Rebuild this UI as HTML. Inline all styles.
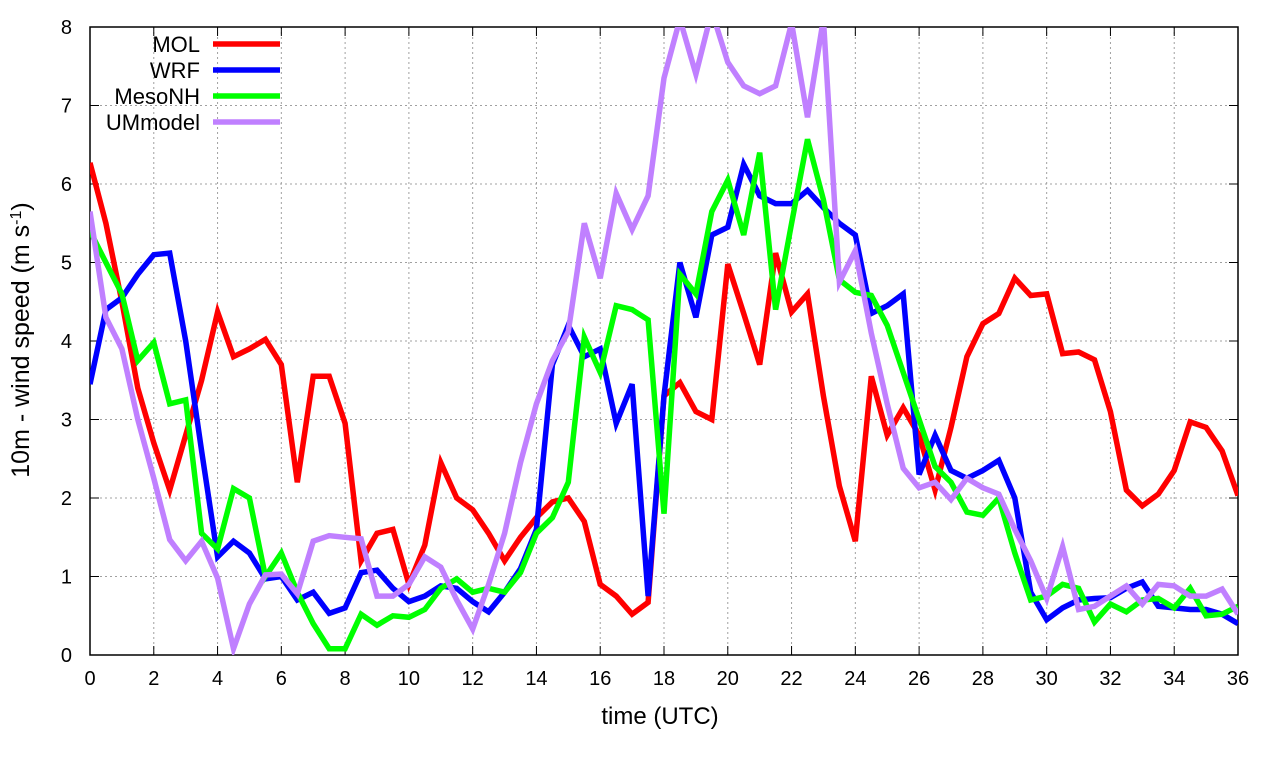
<!DOCTYPE html>
<html><head><meta charset="utf-8"><style>
body{margin:0;background:#fff;}
svg{display:block;font-family:"Liberation Sans",sans-serif;}
</style></head><body>
<svg id="chart" width="1280" height="760">
<defs><clipPath id="clip"><rect x="90" y="27" width="1148" height="628"/></clipPath></defs>
<g id="grid"></g>
<g id="axes"></g>
<g id="series" clip-path="url(#clip)"></g>
<g id="legend"></g>
<text x="660" y="724" font-size="24" text-anchor="middle">time (UTC)</text>
<text transform="translate(29,340) rotate(-90)" font-size="25" text-anchor="middle">10m - wind speed  (m s<tspan baseline-shift="super" font-size="16">-1</tspan>)</text>
</svg>
<script>
const xTicks=[0,2,4,6,8,10,12,14,16,18,20,22,24,26,28,30,32,34,36];
const yTicks=[0,1,2,3,4,5,6,7,8];
const seriesNames=["MOL","WRF","MesoNH","UMmodel"];
const seriesColors=["#ff0000","#0000ff","#00ff00","#c080ff"];
const mol=[6.27,5.5,4.5,3.4,2.7,2.1,2.8,3.5,4.37,3.8,3.9,4.02,3.7,2.2,3.55,3.55,2.95,1.2,1.55,1.6,0.9,1.4,2.45,2.0,1.85,1.55,1.2,1.5,1.75,1.95,2.0,1.7,0.9,0.75,0.52,0.67,3.3,3.47,3.1,3.0,4.98,4.35,3.7,5.12,4.37,4.6,3.3,2.15,1.45,3.55,2.8,3.15,2.8,2.1,2.9,3.8,4.22,4.35,4.8,4.58,4.6,3.84,3.86,3.76,3.1,2.1,1.9,2.05,2.35,2.97,2.9,2.6,2.03];
const wrf=[3.45,4.4,4.55,4.85,5.1,5.12,4.0,2.6,1.25,1.45,1.3,0.97,1.0,0.7,0.8,0.53,0.6,1.05,1.08,0.85,0.68,0.75,0.88,0.85,0.68,0.55,0.8,1.1,1.6,3.7,4.2,3.8,3.9,2.95,3.45,0.75,3.3,5.0,4.3,5.35,5.45,6.25,5.85,5.75,5.75,5.92,5.7,5.5,5.35,4.35,4.45,4.6,2.3,2.8,2.35,2.25,2.35,2.48,2.0,0.8,0.45,0.6,0.7,0.72,0.73,0.85,0.93,0.62,0.6,0.58,0.58,0.52,0.4];
const mesonh=[5.4,5.0,4.6,3.75,3.98,3.2,3.25,1.55,1.35,2.12,2.0,1.0,1.3,0.8,0.4,0.08,0.08,0.52,0.38,0.5,0.48,0.58,0.85,0.97,0.8,0.85,0.8,1.05,1.55,1.75,2.2,4.05,3.6,4.45,4.4,4.27,1.8,4.85,4.6,5.65,6.05,5.35,6.4,4.4,5.5,6.57,5.8,4.78,4.62,4.58,4.2,3.6,3.0,2.4,2.2,1.82,1.78,2.0,1.3,0.7,0.75,0.9,0.85,0.42,0.65,0.55,0.7,0.72,0.6,0.85,0.5,0.52,0.62];
const ummodel=[5.65,4.3,3.9,3.0,2.25,1.47,1.2,1.45,0.98,0.08,0.65,1.02,1.03,0.78,1.45,1.52,1.5,1.48,0.75,0.75,0.9,1.25,1.12,0.7,0.33,0.9,1.55,2.45,3.2,3.75,4.12,5.5,4.8,5.88,5.42,5.85,7.35,8.1,7.4,8.2,7.55,7.25,7.15,7.25,8.05,6.85,8.1,4.75,5.15,4.1,3.2,2.38,2.13,2.2,1.98,2.25,2.13,2.05,1.6,1.2,0.72,1.38,0.58,0.62,0.75,0.88,0.65,0.9,0.88,0.75,0.75,0.84,0.52];
const timeStep=0.5;

const NS="http://www.w3.org/2000/svg";
const X0=90,X1=1238,Y0=655,Y1=27;
function xs(v){return X0+(v-0)/(36-0)*(X1-X0);}
function ys(v){return Y0-(v-0)/(8-0)*(Y0-Y1);}
function mk(tag,attrs,parent){const e=document.createElementNS(NS,tag);for(const k in attrs)e.setAttribute(k,attrs[k]);parent.appendChild(e);return e;}
const grid=document.getElementById('grid'),axes=document.getElementById('axes'),ser=document.getElementById('series'),leg=document.getElementById('legend');
xTicks.forEach(t=>{
  const x=xs(t);
  if(t>0&&t<36){const g=mk('line',{x1:x,x2:x,y1:Y1,y2:Y0,stroke:'#a0a0a0','stroke-width':1,'stroke-dasharray':'2,3'},grid);
  
  }
  mk('line',{x1:x,x2:x,y1:Y0,y2:Y0-9,stroke:'#000','stroke-width':1},axes);
  mk('line',{x1:x,x2:x,y1:Y1,y2:Y1+9,stroke:'#000','stroke-width':1},axes);
  const tx=mk('text',{x:x,y:Y0+30,'font-size':20,'text-anchor':'middle'},axes);tx.textContent=t;
  
  
});
yTicks.forEach(t=>{
  const y=ys(t);
  if(t>0&&t<8){const g=mk('line',{x1:X0,x2:X1,y1:y,y2:y,stroke:'#a0a0a0','stroke-width':1,'stroke-dasharray':'2,3'},grid);
  
  }
  mk('line',{x1:X0,x2:X0+9,y1:y,y2:y,stroke:'#000','stroke-width':1},axes);
  mk('line',{x1:X1,x2:X1-9,y1:y,y2:y,stroke:'#000','stroke-width':1},axes);
  const tx=mk('text',{x:X0-18,y:y+7,'font-size':20,'text-anchor':'end'},axes);tx.textContent=t;
  
  
});
const fr=mk('rect',{x:X0,y:Y1,width:X1-X0,height:Y0-Y1,fill:'none',stroke:'#000','stroke-width':1.5},axes);


[mol,wrf,mesonh,ummodel].forEach((arr,i)=>{
  const pts=arr.map((v,j)=>xs(j*timeStep).toFixed(1)+','+ys(v).toFixed(1)).join(' ');
  const p=mk('polyline',{points:pts,fill:'none',stroke:seriesColors[i],'stroke-width':5.5,'stroke-linejoin':'miter'},ser);
  
  
  const ly=44+i*26;
  const t=mk('text',{x:200,y:ly+8,'font-size':22,'text-anchor':'end'},leg);t.textContent=seriesNames[i];
  
  
  const l=mk('line',{x1:213,x2:280,y1:ly,y2:ly,stroke:seriesColors[i],'stroke-width':5.5},leg);
  
  
});
</script>
</body></html>
